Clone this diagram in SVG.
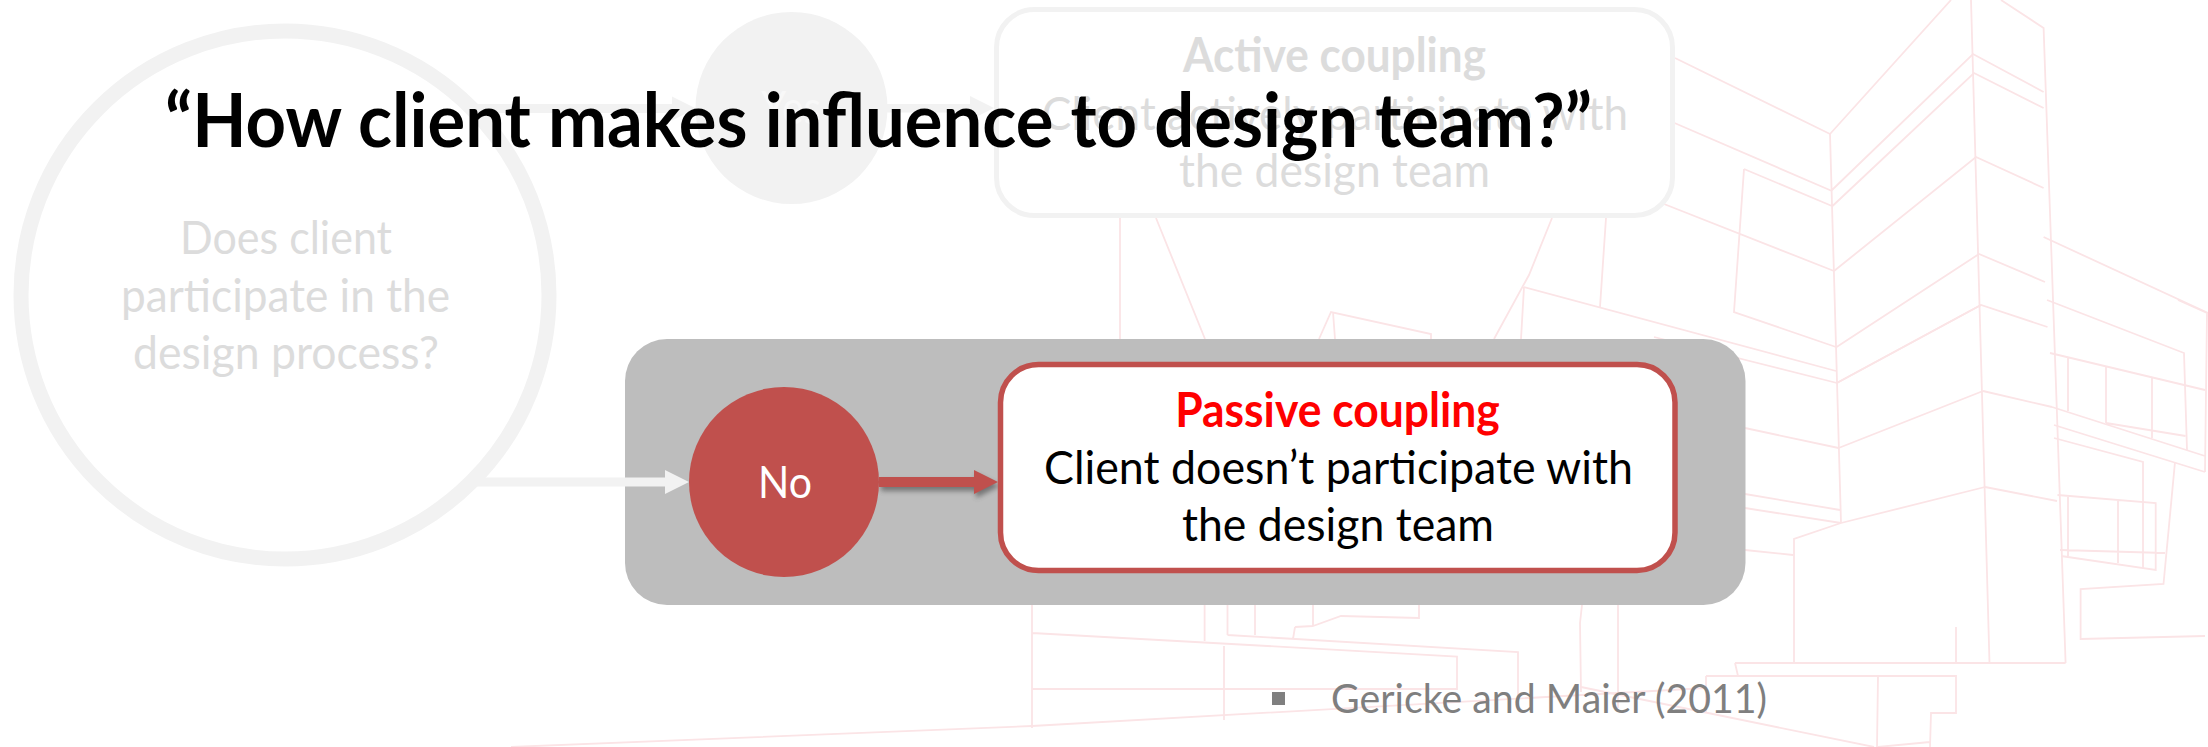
<svg xmlns="http://www.w3.org/2000/svg" width="2208" height="747" viewBox="0 0 2208 747">
<style>
text{font-family:Lato,Carlito,"Open Sans",sans-serif;text-anchor:middle}
.b{fill:none;stroke:#fbe4e6;stroke-width:1.8;stroke-linejoin:miter}
.fade{fill:#dcdcdc;font-size:47px}
.dark{fill:#000;font-size:47px}
.bold{font-weight:700}
</style>
<defs>
<filter id="sh" x="-20%" y="-100%" width="140%" height="300%"><feGaussianBlur stdDeviation="2.5"/></filter>
</defs>
<rect width="2208" height="747" fill="#fff"/>
<g id="building" class="b">
<path d="M1675 58L1830 134L1951 0M1971 0L1989.5 663M2001 0L2043.6 28L2065.6 663"/>
<path d="M1831 191L1973 54L2043.6 92M1832.5 206L1974 73L2043.6 108M1830 134L1841 523"/>
<path d="M1674.5 123L1832 191M1744 169L1832 206M1744 169L1734 312L1836 347M1664 204L1834 271"/>
<path d="M1834 271L1976 157L2043.6 188M1836.6 347L1979 254L2045 282M1836.6 383L1981 305L2047.5 327"/>
<path d="M2043.6 237L2208 313M2047 300L2184 353L2187 450M2178 300L2207 313L2205 472"/>
<path d="M2050 353L2205 390M2068 357V411M2106 367V423M2152 378V438M2052 407L2205 456M2054 425L2205 472M2054 438L2143 462V568M2106 423L2185.6 436"/>
<path d="M2175 462L2163.5 584L2080.6 589V639L2205 636"/>
<path d="M2057.5 495L2155.7 503V570L2061 556M2060 550L2165 553M2068 495V556M2118 500V563"/>
<path d="M1983 391L2052 407M1985 487L2057 501M1837 383L1981 305M1838.6 448L1983 391M1841 523L1985 487M1841 523L1794 539V663"/>
<path d="M1745 428L1838.6 448M1745 494L1840 510M1745 508L1841 523M1745 550L1793 555"/>
<path d="M1524 287L1836 371M1654 337L1837 383"/>
<path d="M1735 663H2065.6M1735 663L1738 676M1706 676H1956V713H1931L1930 747M1930 742L1878 747M1878 676L1877 747M1706 676V712M1581 687L1874 747M1956 627V663"/>
<path d="M511 747L1032 726L1706 688"/>
<path d="M1032 605V728M1032 633L1457 656.5V689H1032M1227.5 635L1518 652V710M1313 605V626L1341 616L1419 618V605M1295 627L1313 626M1295 627L1293 639M1227.5 605V635M1204.6 605V641M1224 646V720M1255 605V635M1618 605V708M1582 605L1580 623L1581 692"/>
<path d="M1120 218V339M1156 218L1205 339M1552 218L1529 275L1494 339M1606 218L1600 307M1524 287L1521 339"/>
<path d="M1319 339L1331 312L1431 334V339M1333 312L1335 339"/>
</g>
<g id="panel"><rect x="625" y="339" width="1120.500" height="266" rx="42" fill="#bdbdbd"/></g>
<g id="node-question">
<circle cx="285" cy="295" r="264" fill="#fff" stroke="#f2f2f2" stroke-width="15"/>
<text class="fade" x="286" y="254" textLength="212" lengthAdjust="spacingAndGlyphs">Does client</text>
<text class="fade" x="285.500" y="312" textLength="329" lengthAdjust="spacingAndGlyphs">participate in the</text>
<text class="fade" x="286" y="369" textLength="306" lengthAdjust="spacingAndGlyphs">design process?</text>
</g>
<g id="connectors">
<path d="M477 104H672V96.500L696 108.500L672 120.500V113H477Z" fill="#f2f2f2"/>
<path d="M887 104H970V96L994 108L970 120V112.500H887Z" fill="#f2f2f2"/>
<path d="M477 477.500H665V470L689 482L665 494V486.500H477Z" fill="#f2f2f2"/>
<path d="M879 477H974V470L998 482L974 494V487H879Z" transform="translate(2 4)" fill="#444" opacity=".6" filter="url(#sh)"/>
<path d="M879 477H974V470L998 482L974 494V487H879Z" fill="#c0504d"/>
</g>
<g id="node-yes">
<circle cx="791.500" cy="108" r="96" fill="#f2f2f2"/>
<text x="791" y="124" font-size="46" fill="#f8f8f8" textLength="60" lengthAdjust="spacingAndGlyphs">Yes</text>
</g>
<g id="node-active">
<rect x="996.500" y="9.500" width="676" height="206" rx="38" fill="#fff" stroke="#f2f2f2" stroke-width="5"/>
<text class="fade bold" x="1334.500" y="72" textLength="303" lengthAdjust="spacingAndGlyphs">Active coupling</text>
<text class="fade" x="1335" y="130" textLength="586" lengthAdjust="spacingAndGlyphs">Client actively participate with</text>
<text class="fade" x="1334.500" y="187" textLength="311" lengthAdjust="spacingAndGlyphs">the design team</text>
</g>
<g id="node-no">
<circle cx="784" cy="482" r="95" fill="#c0504d"/>
<text x="785" y="498" font-size="45" fill="#fff" textLength="54" lengthAdjust="spacingAndGlyphs">No</text>
</g>
<g id="node-passive">
<rect x="1000.500" y="364.500" width="674.500" height="206" rx="38" fill="#fff" stroke="#c0504d" stroke-width="5.500"/>
<text class="bold" x="1337.500" y="427" font-size="47" fill="#f00" textLength="324.500" lengthAdjust="spacingAndGlyphs">Passive coupling</text>
<text class="dark" x="1338.500" y="484" textLength="589" lengthAdjust="spacingAndGlyphs">Client doesn’t participate with</text>
<text class="dark" x="1338" y="541" textLength="312" lengthAdjust="spacingAndGlyphs">the design team</text>
</g>
<g id="citation">
<rect x="1272" y="692" width="13" height="13" fill="#7f7f7f"/>
<text x="1549" y="713" font-size="41" fill="#7f7f7f" textLength="436" lengthAdjust="spacingAndGlyphs">Gericke and Maier (2011)</text>
</g>
<text class="bold" x="878.500" y="147" font-size="74" fill="#000" textLength="1427" lengthAdjust="spacingAndGlyphs">“How client makes influence to design team?”</text>
</svg>
